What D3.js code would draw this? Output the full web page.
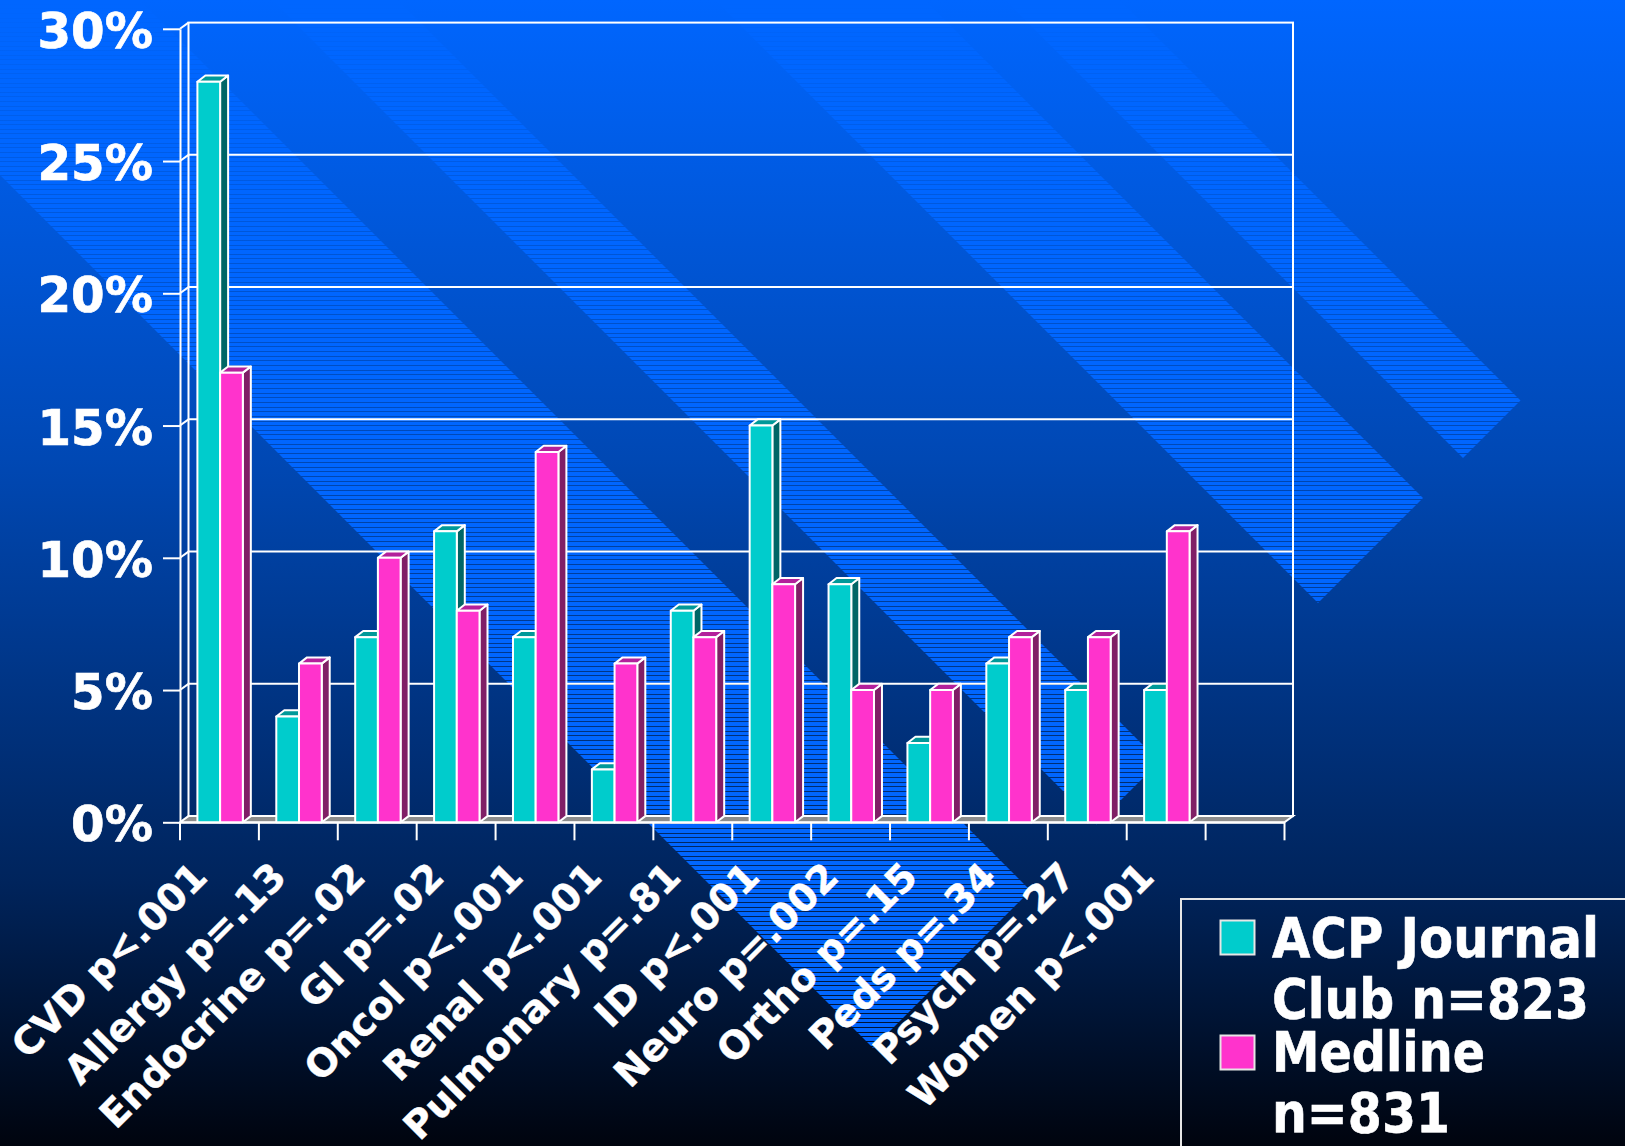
<!DOCTYPE html>
<html>
<head>
<meta charset="utf-8">
<style>
  html, body { margin: 0; padding: 0; background: #000; }
  svg { display: block; }
  text { fill: #fff; font-family: "DejaVu Sans", sans-serif; font-weight: bold; }
</style>
<script src="https://cdn.jsdelivr.net/npm/d3@7/dist/d3.min.js"></script>
</head>
<body>
<script>
// Specialty share of articles by source, with the p value for each comparison
const categories = ["CVD p<.001", "Allergy p=.13", "Endocrine p=.02", "GI p=.02", "Oncol p<.001",
  "Renal p<.001", "Pulmonary p=.81", "ID p<.001", "Neuro p=.002", "Ortho p=.15",
  "Peds p=.34", "Psych p=.27", "Women p<.001", ""];
const acpValues = [28, 4, 7, 11, 7, 2, 8, 15, 9, 3, 6, 5, 5];
const medlineValues = [17, 6, 10, 8, 14, 6, 7, 9, 5, 5, 7, 7, 11];
const seriesNames = ["ACP", "Medline"];
const acpLegendLines = ["ACP Journal", "Club n=823"];
const medlineLegendLines = ["Medline", "n=831"];
const yTicks = [0, 5, 10, 15, 20, 25, 30];

const W = 1625, H = 1146;
const depthX = 8.5, depthY = 6.2, barDepthX = 8;
const frontLeft = 180, frontRight = 1284.5, baseY = 822.3, topY = 28.8;

const palette = {
  ACP: { front: "#00cccc", top: "#009999", side: "#006666" },
  Medline: { front: "#ff33cc", top: "#b3209b", side: "#801f66" }
};

const svg = d3.select("body").append("svg").attr("width", W).attr("height", H);
const defs = svg.append("defs");

// Slide background: vertical blue to black
const grad = defs.append("linearGradient").attr("id", "bg")
  .attr("x1", 0).attr("y1", 0).attr("x2", 0).attr("y2", 1);
[[0, "#0066ff"], [0.4, "#0048b4"], [0.77, "#00245c"], [1, "#00040e"]].forEach(([o, c]) =>
  grad.append("stop").attr("offset", o).attr("stop-color", c));
svg.append("rect").attr("width", W).attr("height", H).attr("fill", "url(#bg)");

// Diagonal striped ribbons, all cut off along the same 45 degree line
const ribbonEnd = 1921;
const ribbons = [[175, -140], [-272, -398], [-715, -925], [-1005, -1120]];
const ribbonClip = defs.append("clipPath").attr("id", "ribbons");
ribbons.forEach(([low, high]) => {
  const tip = c => [(ribbonEnd - c) / 2, (ribbonEnd + c) / 2];
  const start = c => [-c - 200, -200];
  const pts = [start(high), tip(high), tip(low), start(low)];
  ribbonClip.append("polygon").attr("points", pts.map(p => p.join(",")).join(" "));
});
svg.append("g").attr("clip-path", "url(#ribbons)")
  .selectAll("rect").data(d3.range(0.2, H, 4.63)).join("rect")
  .attr("x", 0).attr("width", W).attr("y", d => d).attr("height", 3.63)
  .attr("fill", "#0066ff").attr("shape-rendering", "crispEdges");

// Scales
const x = d3.scaleBand().domain(categories).range([frontLeft, frontRight]);
const xSeries = d3.scaleBand().domain(seriesNames).range([0, x.bandwidth()])
  .paddingInner(0).paddingOuter(0.737).align(0.52);
const y = d3.scaleLinear().domain([0, 30]).range([baseY, topY]);

const lineWidth = 2;
const lineStyle = sel => sel.attr("stroke", "#fff").attr("stroke-width", lineWidth).attr("fill", "none");

// Back wall and gridlines
const backY = v => y(v) - depthY;
svg.append("rect").attr("x", frontLeft + depthX).attr("y", backY(30))
  .attr("width", frontRight - frontLeft).attr("height", baseY - topY)
  .call(lineStyle);
svg.append("g").selectAll("line").data(yTicks.slice(1, -1)).join("line")
  .attr("x1", frontLeft + depthX).attr("x2", frontRight + depthX)
  .attr("y1", backY).attr("y2", backY).call(lineStyle);
svg.append("g").selectAll("line").data(yTicks.slice(1)).join("line")
  .attr("x1", frontLeft).attr("x2", frontLeft + depthX)
  .attr("y1", d => y(d)).attr("y2", backY).call(lineStyle);

// Floor
svg.append("polygon")
  .attr("points", [[frontLeft, baseY], [frontLeft + depthX, baseY - depthY],
    [frontRight + depthX, baseY - depthY], [frontRight, baseY]].map(p => p.join(",")).join(" "))
  .attr("fill", "#8c8c8c").attr("stroke", "#fff").attr("stroke-width", lineWidth);

// Value axis; the bold face is narrowed and thickened slightly
const yAxis = svg.append("g").attr("transform", `translate(${frontLeft},0)`)
  .call(d3.axisLeft(y).tickValues(yTicks).tickFormat(d => d + "%").tickSize(17).tickPadding(10).tickSizeOuter(0));
yAxis.selectAll("path, line").attr("stroke", "#fff").attr("stroke-width", lineWidth);
yAxis.selectAll("text")
  .attr("font-size", 50).attr("dy", 18.5).attr("x", 0)
  .attr("transform", "translate(-27,0) scale(0.965,1)")
  .attr("fill", "#fff").attr("stroke", "#fff").attr("stroke-width", 0.7)
  .style("font-family", '"DejaVu Sans", sans-serif').style("font-weight", "bold");

// Category axis: ticks sit on the band edges, labels run up to the band centres
const tickEdges = categories.map(c => x(c)).concat(frontRight);
svg.append("g").selectAll("line").data(tickEdges).join("line")
  .attr("x1", d => d).attr("x2", d => d).attr("y1", baseY).attr("y2", baseY + 18).call(lineStyle);
const xAxis = svg.append("g").attr("transform", `translate(0,${baseY})`)
  .call(d3.axisBottom(x).tickSize(0).tickSizeOuter(0));
xAxis.select("path").attr("stroke", "#fff").attr("stroke-width", lineWidth);
xAxis.selectAll("text")
  .attr("font-size", 38.3).attr("text-anchor", "end").attr("dy", 0).attr("y", 0)
  .attr("transform", "translate(-10,56.5) rotate(-45)")
  .attr("stroke", "#fff").attr("stroke-width", 0.4)
  .style("font-family", '"DejaVu Sans", sans-serif').style("font-weight", "bold");

// Bars with their top and side faces
const bars = seriesNames.flatMap((name, s) =>
  (s === 0 ? acpValues : medlineValues).map((v, i) => ({ name, cat: categories[i], value: v })));
const barGroups = svg.append("g").selectAll("g").data(bars).join("g");
const bx0 = d => x(d.cat) + xSeries(d.name);
const bx1 = d => bx0(d) + xSeries.bandwidth();
const poly = pts => pts.map(p => p.join(",")).join(" ");
const edge = sel => sel.attr("stroke", "#fff").attr("stroke-width", lineWidth).attr("stroke-linejoin", "round");
barGroups.append("polygon").call(edge)
  .attr("fill", d => palette[d.name].side)
  .attr("points", d => poly([[bx1(d), y(d.value)], [bx1(d) + barDepthX, y(d.value) - depthY],
    [bx1(d) + barDepthX, baseY - depthY], [bx1(d), baseY]]));
barGroups.append("polygon").call(edge)
  .attr("fill", d => palette[d.name].top)
  .attr("points", d => poly([[bx0(d), y(d.value)], [bx0(d) + barDepthX, y(d.value) - depthY],
    [bx1(d) + barDepthX, y(d.value) - depthY], [bx1(d), y(d.value)]]));
barGroups.append("rect").call(edge)
  .attr("fill", d => palette[d.name].front)
  .attr("x", bx0).attr("width", xSeries.bandwidth())
  .attr("y", d => y(d.value)).attr("height", d => baseY - y(d.value));

// Legend, running off the right and bottom of the slide
const legend = svg.append("g");
legend.append("rect").attr("x", 1181).attr("y", 899).attr("width", 600).attr("height", 400)
  .attr("fill", "none").attr("stroke", "#e6e6e6").attr("stroke-width", lineWidth);
const legendRows = [
  { name: "ACP", lines: acpLegendLines, swatchY: 920.5, baselines: [957, 1018], widths: [327, 317] },
  { name: "Medline", lines: medlineLegendLines, swatchY: 1035.5, baselines: [1071, 1132], widths: [213, 178] }
];
legendRows.forEach(row => {
  legend.append("rect").attr("x", 1220.5).attr("y", row.swatchY).attr("width", 34).attr("height", 34)
    .attr("fill", palette[row.name].front).attr("stroke", "#e6e6e6").attr("stroke-width", lineWidth);
  row.lines.forEach((t, i) => legend.append("text")
    .attr("x", 1272).attr("y", row.baselines[i])
    .attr("font-size", 55).attr("stroke", "#fff").attr("stroke-width", 0.6)
    .attr("textLength", row.widths[i]).attr("lengthAdjust", "spacingAndGlyphs").text(t));
});
</script>
</body>
</html>
